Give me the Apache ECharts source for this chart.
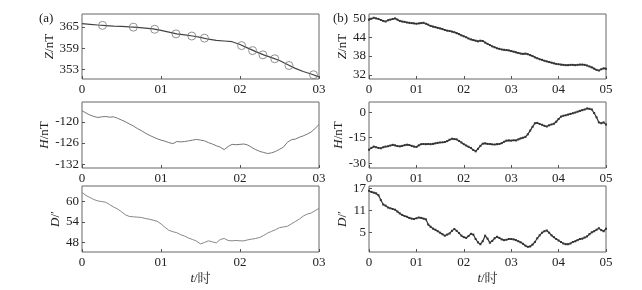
<!DOCTYPE html>
<html>
<head>
<meta charset="utf-8">
<script src="https://cdn.jsdelivr.net/npm/echarts@6/dist/echarts.min.js"></script>
<style>
html, body { margin: 0; padding: 0; background: #fff; }
#main { width: 642px; height: 290px; }
</style>
</head>
<body>
<div id="main"></div>
<script>
// 时间轴刻度
var leftTicks = ['0', '01', '02', '03'];
var rightTicks = ['0', '01', '02', '03', '04', '05'];

// (a) Z 分量, 每0.1时一个点
var aZStep = 0.1;
var aZ = [365.9, 365.7, 365.5, 365.35, 365.2, 365.1, 364.95, 364.85, 364.65, 364.4,
	364.0, 363.5, 363.0, 362.7, 362.4, 362.0, 361.5, 361.2, 361.0, 360.8,
	360.0, 359.0, 358.0, 357.1, 356.3, 355.5, 354.4, 353.3, 352.4, 351.7, 350.9];
// (a) Z 上的圆圈
var aZMarkTime = [0.26, 0.65, 0.92, 1.19, 1.39, 1.55, 2.02, 2.16, 2.29, 2.44, 2.62, 2.93];
var aZMarkValue = [365.4, 364.9, 364.3, 363.0, 362.4, 361.8, 359.7, 358.3, 357.1, 356.0, 354.1, 351.5];

// (a) H, D, 每0.05时一个点
var aStep = 0.05;
var aH = [-116.9, -117.5, -118.1, -118.5, -118.8, -118.6, -118.5, -118.7, -118.6, -119.0,
	-119.5, -120.0, -120.6, -121.2, -121.9, -122.5, -123.2, -123.8, -124.3, -124.8,
	-125.2, -125.5, -125.9, -126.2, -125.6, -125.7, -125.6, -125.4, -125.2, -125.0,
	-125.2, -125.4, -125.9, -126.3, -126.8, -127.2, -127.9, -127.0, -126.4, -126.5,
	-126.4, -126.3, -126.6, -127.3, -127.9, -128.4, -128.7, -129.0, -128.8, -128.4,
	-127.8, -127.2, -125.8, -125.1, -124.9, -124.4, -124.0, -123.5, -122.9, -121.9, -120.8];
var aD = [62.7, 61.8, 61.2, 60.6, 60.2, 60.0, 59.8, 59.1, 58.4, 57.8,
	57.0, 56.1, 55.6, 55.5, 55.4, 55.3, 55.0, 54.8, 54.5, 54.2,
	53.4, 52.4, 51.5, 51.1, 50.8, 50.2, 49.8, 49.2, 48.8, 48.3,
	47.5, 47.9, 48.4, 48.1, 47.8, 48.8, 49.1, 48.5, 48.4, 48.5,
	48.4, 48.4, 48.7, 48.9, 49.1, 49.4, 50.0, 50.7, 51.2, 51.7,
	52.3, 52.5, 52.7, 53.4, 54.1, 54.8, 55.7, 56.3, 56.6, 57.3, 58.0];

// (b) Z, H, D, 每0.05时一个点
var bStep = 0.05;
var bZ = [49.6, 49.9, 50.2, 50.0, 49.8, 49.5, 49.2, 49.0, 49.4, 49.6,
	49.8, 50.0, 49.6, 49.2, 49.0, 48.9, 48.7, 48.6, 48.5, 48.4,
	48.3, 48.4, 48.5, 48.6, 48.3, 48.0, 47.6, 47.4, 47.2, 47.0,
	46.8, 46.6, 46.3, 46.1, 46.0, 45.8, 45.6, 45.3, 45.0, 44.6,
	44.3, 44.0, 43.6, 43.3, 43.1, 42.9, 42.7, 42.9, 42.8, 42.3,
	41.9, 41.5, 41.1, 40.8, 40.5, 40.3, 40.1, 40.0, 39.9, 39.8,
	39.6, 39.4, 39.2, 39.0, 38.8, 38.7, 38.8, 38.6, 38.3, 38.0,
	37.6, 37.3, 37.0, 36.8, 36.5, 36.3, 36.1, 35.9, 35.7, 35.5,
	35.4, 35.3, 35.2, 35.1, 35.1, 35.2, 35.2, 35.1, 35.2, 35.3,
	35.3, 35.2, 35.0, 34.7, 34.4, 34.0, 33.6, 33.4, 33.8, 34.1, 34.0];
var bH = [-22.0, -21.0, -20.2, -20.6, -21.0, -21.2, -20.6, -20.2, -20.0, -19.6,
	-19.2, -19.5, -19.9, -20.1, -19.8, -19.4, -19.1, -19.3, -19.8, -20.2,
	-20.4, -19.5, -18.8, -18.7, -18.8, -18.7, -18.8, -18.6, -18.3, -18.0,
	-17.8, -17.7, -17.5, -17.0, -16.2, -15.6, -15.8, -16.0, -16.9, -17.8,
	-18.8, -19.6, -20.3, -21.0, -22.2, -23.0, -21.5, -19.8, -18.5, -18.3,
	-18.6, -18.7, -18.9, -19.0, -18.8, -18.7, -18.2, -17.4, -16.7, -16.6,
	-16.7, -16.5, -16.6, -16.0, -15.4, -15.0, -14.5, -13.0, -10.8, -8.6,
	-6.5, -6.3, -6.9, -7.4, -8.0, -8.4, -7.7, -7.2, -6.8, -5.6,
	-4.0, -2.6, -2.1, -1.8, -1.4, -1.0, -0.6, -0.2, 0.3, 0.8,
	1.2, 1.6, 2.2, 2.0, 1.6, -0.5, -3.0, -6.0, -6.5, -6.0, -7.3];
var bD = [16.3, 16.0, 15.8, 15.6, 15.1, 13.8, 12.6, 12.3, 11.8, 11.6,
	11.4, 11.2, 10.7, 10.2, 9.8, 9.5, 9.3, 9.0, 8.8, 8.7,
	8.9, 9.1, 9.0, 8.8, 8.6, 7.2, 6.6, 6.1, 5.8, 5.4,
	5.0, 4.6, 4.2, 4.5, 4.8, 5.5, 6.0, 5.5, 4.9, 4.2,
	3.8, 3.6, 4.1, 4.7, 4.5, 3.3, 2.4, 1.9, 2.7, 4.2,
	3.4, 2.3, 2.8, 3.5, 3.9, 3.6, 3.2, 3.0, 3.1, 3.3,
	3.3, 3.2, 3.0, 2.7, 2.4, 2.0, 1.5, 1.2, 1.3, 1.8,
	2.5, 3.5, 4.3, 5.0, 5.4, 5.6, 5.0, 4.3, 3.8, 3.3,
	2.9, 2.5, 2.1, 1.9, 1.9, 2.1, 2.5, 2.7, 3.0, 3.3,
	3.4, 3.7, 4.0, 4.6, 5.1, 5.4, 5.8, 6.2, 5.7, 5.4, 6.1];

// 纵轴刻度
var aZTicks = [353, 359, 365];
var aHTicks = [-132, -126, -120];
var aDTicks = [48, 54, 60];
var bZTicks = [32, 38, 44, 50];
var bHTicks = [-30, -15, 0];
var bDTicks = [5, 11, 17];

var serif = 'Liberation Serif, Noto Serif CJK SC, Noto Sans CJK SC, serif';

function toPairs(step, values) {
	return values.map(function (v, i) { return [+(i * step).toFixed(2), v]; });
}

var grids = [], xAxes = [], yAxes = [], series = [];

// 生成一个小图
function addPanel(p) {
	var idx = grids.length;
	grids.push({ left: p.left, top: p.top, width: 237, height: p.height, show: true, borderColor: '#666', borderWidth: 1 });
	var ticks = p.xTicks;
	xAxes.push({
		gridIndex: idx, type: 'value', min: 0, max: ticks.length - 1, interval: 1,
		axisLine: { show: false, onZero: false },
		axisTick: { inside: true, length: 3, lineStyle: { color: '#555' } },
		splitLine: { show: false },
		axisLabel: { margin: 4, color: '#222', fontFamily: serif, fontSize: 13,
			formatter: function (v) { return ticks[Math.round(v)]; } },
		name: p.xName || '', nameLocation: 'middle', nameGap: 20,
		nameTextStyle: { color: '#222', fontFamily: serif, fontSize: 13,
			rich: { i: { fontStyle: 'italic', fontFamily: serif, fontSize: 13, color: '#222' } } }
	});
	yAxes.push({
		gridIndex: idx, type: 'value', min: p.min, max: p.max,
		axisLine: { show: false, onZero: false },
		axisTick: { inside: true, length: 3, customValues: p.yTicks, lineStyle: { color: '#555' } },
		splitLine: { show: false },
		axisLabel: { margin: 3, color: '#222', fontFamily: serif, fontSize: 13, customValues: p.yTicks },
		name: p.yName, nameLocation: 'middle', nameRotate: 90, nameGap: p.nameGap,
		nameTextStyle: { color: '#222', fontFamily: serif, fontSize: 13,
			rich: { i: { fontStyle: 'italic', fontFamily: serif, fontSize: 13, color: '#222' } } }
	});
	var s = {
		type: 'line', xAxisIndex: idx, yAxisIndex: idx, data: p.data,
		showSymbol: false, animation: false,
		lineStyle: { color: p.color, width: p.width }
	};
	// 右列曲线带小点, 显得粗糙
	if (p.dots) {
		s.showSymbol = true;
		s.symbol = 'rect';
		s.symbolSize = 2;
		s.itemStyle = { color: p.color };
	}
	series.push(s);
	return idx;
}

function showChart() {
	var myChart = echarts.init(document.getElementById('main'));

	var za = addPanel({ left: 82, top: 14, height: 65, xTicks: leftTicks, min: 350.3, max: 368.6,
		yTicks: aZTicks, yName: '{i|Z}/nT', nameGap: 24, data: toPairs(aZStep, aZ), color: '#444', width: 1.2 });
	addPanel({ left: 82, top: 102, height: 66, xTicks: leftTicks, min: -133.1, max: -114.4,
		yTicks: aHTicks, yName: '{i|H}/nT', nameGap: 31, data: toPairs(aStep, aH), color: '#777', width: 1 });
	addPanel({ left: 82, top: 186, height: 66, xTicks: leftTicks, min: 45.1, max: 64.6,
		yTicks: aDTicks, yName: '{i|D}/′', nameGap: 15, data: toPairs(aStep, aD), color: '#888', width: 1,
		xName: '{i|t}/时' });
	addPanel({ left: 369, top: 14, height: 65, xTicks: rightTicks, min: 30.7, max: 51.4,
		yTicks: bZTicks, yName: '{i|Z}/nT', nameGap: 20, data: toPairs(bStep, bZ), color: '#333', width: 1.2, dots: true });
	addPanel({ left: 369, top: 102, height: 66, xTicks: rightTicks, min: -32.8, max: 6,
		yTicks: bHTicks, yName: '{i|H}/nT', nameGap: 24, data: toPairs(bStep, bH), color: '#333', width: 1.2, dots: true });
	addPanel({ left: 369, top: 186, height: 66, xTicks: rightTicks, min: -0.2, max: 17.6,
		yTicks: bDTicks, yName: '{i|D}/′', nameGap: 19, data: toPairs(bStep, bD), color: '#333', width: 1.2, dots: true,
		xName: '{i|t}/时' });

	// (a) Z 曲线上的空心圆圈
	series.push({
		type: 'scatter', xAxisIndex: za, yAxisIndex: za, animation: false, z: 3,
		data: aZMarkTime.map(function (t, i) { return [t, aZMarkValue[i]]; }),
		symbol: 'circle', symbolSize: 8,
		itemStyle: { color: 'rgba(0,0,0,0)', borderColor: '#777', borderWidth: 1 }
	});

	var option = {
		backgroundColor: '#fff',
		animation: false,
		title: [
			{ text: '(a)', left: 34, top: 7, textStyle: { fontFamily: serif, fontSize: 13, fontWeight: 'normal', color: '#222' } },
			{ text: '(b)', left: 328, top: 7, textStyle: { fontFamily: serif, fontSize: 13, fontWeight: 'normal', color: '#222' } }
		],
		grid: grids,
		xAxis: xAxes,
		yAxis: yAxes,
		series: series
	};
	myChart.setOption(option);
}
showChart();
</script>
</body>
</html>
